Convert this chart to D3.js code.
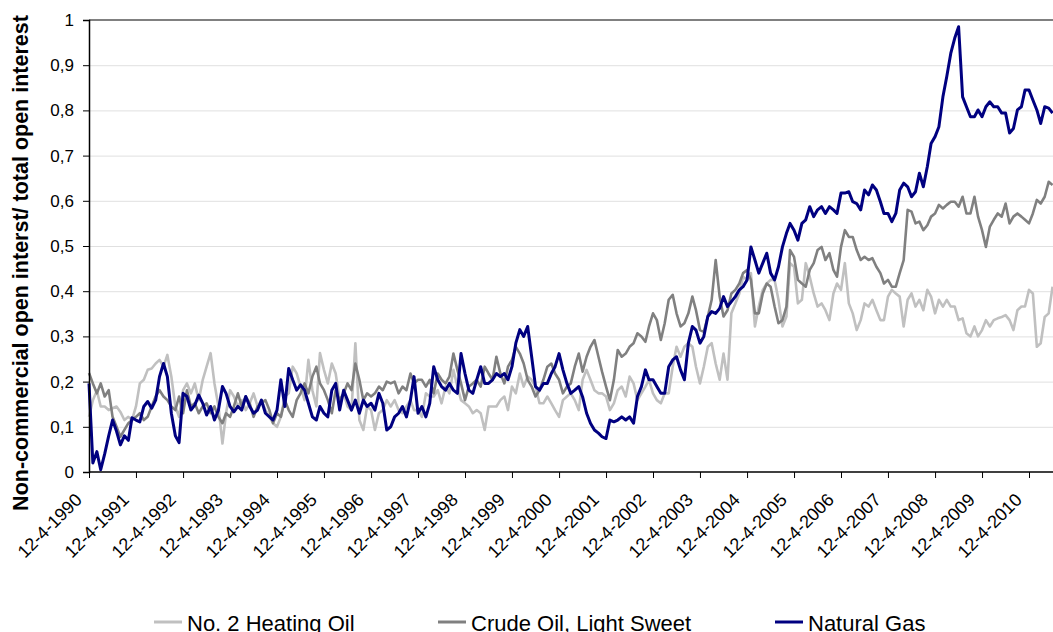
<!DOCTYPE html>
<html>
<head>
<meta charset="utf-8">
<script src="https://cdn.jsdelivr.net/npm/d3@7"></script>
<style>
  body { margin: 0; background: #fff; }
  .grid line { stroke: #e0e0e0; }
  .grid path { display: none; }
  .series { fill: none; stroke-linejoin: round; }
</style>
</head>
<body>
<svg id="chart" width="1053" height="632" font-family="'Liberation Sans', Arial, sans-serif"></svg>
<script>
// Monthly readings, starting 12-4-1990
const startDate = new Date(1990, 3, 12);
const tickYears = d3.range(1990, 2011);
const yTicks = d3.range(0, 11).map(d => d / 10);

const heatingOil = [
  0.122, 0.159, 0.18, 0.145, 0.145, 0.137, 0.141, 0.145, 0.133, 0.115, 0.122, 0.115,
  0.145, 0.196, 0.204, 0.226, 0.229, 0.24, 0.248, 0.233, 0.259, 0.211, 0.145, 0.122,
  0.181, 0.196, 0.174, 0.196, 0.159, 0.204, 0.233, 0.263, 0.196, 0.145, 0.063, 0.13,
  0.181, 0.167, 0.145, 0.159, 0.137, 0.152, 0.174, 0.145, 0.159, 0.137, 0.122, 0.108,
  0.1, 0.122, 0.167, 0.174, 0.233, 0.218, 0.189, 0.159, 0.248, 0.181, 0.145, 0.263,
  0.226, 0.196, 0.24, 0.218, 0.159, 0.174, 0.145, 0.137, 0.285, 0.115, 0.093, 0.145,
  0.137, 0.093, 0.13, 0.137, 0.159, 0.145, 0.159, 0.137, 0.13, 0.145, 0.159, 0.137,
  0.137, 0.122, 0.174, 0.167, 0.167, 0.181, 0.152, 0.189, 0.174, 0.226, 0.189, 0.159,
  0.152, 0.145, 0.13, 0.137, 0.13, 0.093, 0.145, 0.145, 0.145, 0.159, 0.167, 0.137,
  0.189, 0.174, 0.218, 0.189, 0.211, 0.204, 0.189, 0.152, 0.152, 0.167, 0.152, 0.137,
  0.122, 0.159, 0.167, 0.174, 0.159, 0.137, 0.204, 0.226, 0.204, 0.181, 0.174, 0.174,
  0.167, 0.137, 0.152, 0.181, 0.189, 0.167, 0.211, 0.196, 0.159, 0.174, 0.189, 0.204,
  0.174, 0.159, 0.152, 0.174, 0.174, 0.233, 0.277, 0.255, 0.277, 0.285, 0.277, 0.233,
  0.196, 0.233, 0.277, 0.285, 0.24, 0.204, 0.262, 0.204, 0.351, 0.373, 0.395, 0.432,
  0.425, 0.44, 0.322, 0.366, 0.403, 0.417, 0.425, 0.425, 0.381, 0.322, 0.344, 0.462,
  0.454, 0.373, 0.381, 0.462, 0.432, 0.395, 0.366, 0.373, 0.358, 0.336, 0.395, 0.417,
  0.403, 0.462, 0.373, 0.351, 0.314, 0.336, 0.373, 0.366, 0.381, 0.358, 0.336, 0.336,
  0.388, 0.403, 0.395, 0.388, 0.322, 0.381, 0.395, 0.366, 0.381, 0.358, 0.403, 0.388,
  0.351, 0.381, 0.366, 0.381, 0.366, 0.366, 0.336, 0.34, 0.307, 0.3, 0.322, 0.3,
  0.314, 0.336, 0.322, 0.336, 0.34, 0.343, 0.347, 0.336, 0.314, 0.358, 0.366, 0.366,
  0.403, 0.395, 0.277, 0.285, 0.343, 0.351, 0.41
];

const crudeOil = [
  0.219, 0.196, 0.174, 0.196, 0.167, 0.181, 0.122, 0.1, 0.078, 0.093, 0.108, 0.115,
  0.122, 0.13, 0.115, 0.122, 0.145, 0.167, 0.181, 0.167, 0.159, 0.145, 0.137, 0.167,
  0.13, 0.181, 0.145, 0.152, 0.13, 0.145, 0.152, 0.13, 0.145, 0.122, 0.108, 0.13,
  0.122, 0.145, 0.174, 0.145, 0.167, 0.152, 0.122, 0.145, 0.152, 0.159, 0.137, 0.108,
  0.13, 0.122, 0.159, 0.137, 0.122, 0.159, 0.174, 0.196, 0.174, 0.211, 0.233, 0.196,
  0.181, 0.159, 0.13, 0.181, 0.159, 0.174, 0.196, 0.181, 0.24, 0.204, 0.159, 0.174,
  0.167, 0.174, 0.189, 0.181, 0.2, 0.196, 0.2, 0.174, 0.189, 0.181, 0.218, 0.196,
  0.204, 0.204, 0.189, 0.204, 0.174, 0.218, 0.204, 0.196, 0.211, 0.262, 0.226, 0.196,
  0.159, 0.189, 0.196, 0.204, 0.189, 0.233, 0.218, 0.204, 0.255, 0.218, 0.196, 0.233,
  0.248, 0.277, 0.262, 0.24, 0.204, 0.189, 0.167, 0.181, 0.204, 0.233, 0.24, 0.218,
  0.204, 0.174, 0.189, 0.196, 0.233, 0.262, 0.222, 0.255, 0.277, 0.292, 0.255, 0.222,
  0.189, 0.159, 0.204, 0.27, 0.255, 0.262, 0.277, 0.285, 0.307, 0.3, 0.288, 0.322,
  0.351, 0.336, 0.292, 0.329, 0.381, 0.392, 0.351, 0.322, 0.329, 0.351, 0.388, 0.358,
  0.314, 0.31, 0.344, 0.381, 0.469, 0.388, 0.344, 0.358, 0.395, 0.403, 0.417, 0.44,
  0.447, 0.425, 0.351, 0.351, 0.395, 0.417, 0.41, 0.366, 0.329, 0.336, 0.366, 0.491,
  0.476, 0.425, 0.417, 0.41, 0.447, 0.462, 0.491, 0.498, 0.469, 0.484, 0.447, 0.432,
  0.498, 0.535, 0.52, 0.52, 0.491, 0.469, 0.476, 0.469, 0.473, 0.454, 0.44, 0.417,
  0.425, 0.41, 0.41, 0.44, 0.469, 0.58, 0.576, 0.55, 0.554, 0.535, 0.546, 0.565,
  0.572, 0.591, 0.583, 0.591, 0.598, 0.598, 0.587, 0.609, 0.572, 0.572, 0.609, 0.565,
  0.535, 0.498, 0.543, 0.558, 0.572, 0.565, 0.594, 0.55, 0.565, 0.572, 0.565, 0.558,
  0.55, 0.572, 0.602, 0.594, 0.609, 0.642, 0.635
];

const naturalGas = [
  0.196, 0.02, 0.045, 0.005, 0.04, 0.08, 0.115, 0.09, 0.06, 0.08, 0.07, 0.12,
  0.115, 0.111, 0.145, 0.156, 0.141, 0.159, 0.211, 0.24, 0.211, 0.13, 0.08, 0.065,
  0.174, 0.167, 0.137, 0.148, 0.17, 0.152, 0.126, 0.145, 0.115, 0.137, 0.189, 0.174,
  0.145, 0.133, 0.145, 0.137, 0.167, 0.145, 0.13, 0.137, 0.159, 0.13, 0.122, 0.115,
  0.137, 0.204, 0.145, 0.229, 0.204, 0.181, 0.193, 0.181, 0.152, 0.122, 0.115, 0.145,
  0.13, 0.122, 0.181, 0.196, 0.137, 0.181, 0.159, 0.137, 0.159, 0.13, 0.159, 0.145,
  0.152, 0.137, 0.174, 0.152, 0.093, 0.1, 0.122, 0.13, 0.145, 0.122, 0.159, 0.211,
  0.13, 0.145, 0.122, 0.152, 0.233, 0.204, 0.189, 0.181, 0.196, 0.181, 0.174, 0.262,
  0.218, 0.181, 0.174, 0.204, 0.233, 0.196, 0.196, 0.204, 0.218, 0.211, 0.218, 0.204,
  0.233, 0.285, 0.315, 0.3, 0.322, 0.255, 0.189, 0.181, 0.196, 0.196, 0.218, 0.233,
  0.262, 0.226, 0.196, 0.174, 0.181, 0.189, 0.166, 0.13, 0.108, 0.093, 0.086, 0.078,
  0.074, 0.115, 0.111, 0.115, 0.122, 0.115, 0.122, 0.108, 0.167, 0.189, 0.226, 0.204,
  0.204, 0.189, 0.174, 0.174, 0.233, 0.248, 0.255, 0.226, 0.204, 0.285, 0.322, 0.314,
  0.285, 0.3, 0.344, 0.355, 0.351, 0.362, 0.388, 0.366, 0.377, 0.388, 0.403, 0.41,
  0.425, 0.498, 0.469, 0.44, 0.462, 0.484, 0.44, 0.425, 0.454, 0.498, 0.528, 0.55,
  0.535, 0.513, 0.55, 0.558, 0.587, 0.565, 0.58, 0.587, 0.572, 0.587, 0.58, 0.572,
  0.617, 0.617, 0.62, 0.598, 0.594, 0.58, 0.624, 0.613, 0.635, 0.624, 0.598, 0.572,
  0.572, 0.554, 0.572, 0.624, 0.639, 0.631, 0.609, 0.62, 0.661, 0.631, 0.676, 0.727,
  0.742, 0.764, 0.83, 0.875, 0.926, 0.96, 0.985, 0.83, 0.808, 0.786, 0.786, 0.801,
  0.786, 0.808, 0.819, 0.808, 0.808, 0.794, 0.794, 0.75, 0.76, 0.801, 0.808, 0.845,
  0.845, 0.823, 0.801, 0.771, 0.808, 0.805, 0.794
];

const seriesNames = ['No. 2 Heating Oil', 'Crude Oil, Light Sweet', 'Natural Gas'];
const seriesColors = ['#c0c0c0', '#808080', '#000080'];
const seriesValues = [heatingOil, crudeOil, naturalGas];

const svg = d3.select('#chart');

const x = d3.scaleTime()
    .domain([startDate, new Date(2010, 3, 12)])
    .range([89, 1029]);

const y = d3.scaleLinear()
    .domain([0, 1])
    .range([472, 20]);

// Grid
svg.append('g')
    .attr('class', 'grid')
    .attr('transform', 'translate(89,0)')
    .call(d3.axisLeft(y).tickValues(yTicks.slice(1, 10)).tickSize(-1053).tickFormat(''));

// Top border
svg.append('line')
    .attr('x1', 89).attr('x2', 1053)
    .attr('y1', y(1)).attr('y2', y(1))
    .attr('stroke', '#808080')
    .attr('stroke-width', 2);

// Lines
const line = d3.line()
    .x((d, i) => x(d3.timeMonth.offset(startDate, i)))
    .y(d => y(d));

svg.selectAll('.series')
    .data(seriesValues)
    .enter()
    .append('path')
    .attr('class', 'series')
    .attr('d', line)
    .attr('stroke', (d, i) => seriesColors[i])
    .attr('stroke-width', (d, i) => i === 2 ? 3 : 2.6);

// Y axis
const yAxis = svg.append('g')
    .attr('transform', 'translate(89,0)')
    .call(d3.axisLeft(y)
        .tickValues(yTicks)
        .tickSize(6)
        .tickPadding(9)
        .tickFormat(d => d3.format('.1~f')(d).replace('.', ',')))
    .attr('font-family', "'Liberation Sans', Arial, sans-serif")
    .attr('font-size', 17);
yAxis.select('.domain').attr('stroke', '#000').attr('stroke-width', 1.5);
yAxis.selectAll('.tick line').attr('stroke', '#000');
yAxis.selectAll('.tick text').attr('fill', '#000');

// X axis (labels drawn separately, rotated)
const xAxis = svg.append('g')
    .attr('transform', 'translate(0,472)')
    .call(d3.axisBottom(x)
        .tickValues(tickYears.map(yr => new Date(yr, 3, 12)))
        .tickSize(6)
        .tickSizeOuter(0)
        .tickFormat(''));
xAxis.select('.domain')
    .attr('d', 'M89,0H1053')
    .attr('stroke', '#000')
    .attr('stroke-width', 1.5);
xAxis.selectAll('.tick line').attr('stroke', '#000');

const fmt = d3.timeFormat('%-d-%-m-%Y');
svg.append('g')
    .selectAll('text')
    .data(tickYears.map(yr => new Date(yr, 3, 12)))
    .enter()
    .append('text')
    .attr('text-anchor', 'end')
    .attr('font-size', 18)
    .attr('fill', '#000')
    .attr('transform', d => `translate(${x(d) - 6},501) rotate(-45)`)
    .text(fmt);

// Axis title
svg.append('text')
    .attr('text-anchor', 'middle')
    .attr('transform', 'translate(28,263) rotate(-90)')
    .attr('font-size', 21.5)
    .attr('font-weight', 'bold')
    .text('Non-commercial open interst/ total open interest');

// Legend
const legendX = [154, 438, 775];
const legend = svg.append('g');
seriesNames.forEach((name, i) => {
    const item = legend.append('g')
        .attr('transform', `translate(${legendX[i]},622)`);
    item.append('line')
        .attr('x1', 0).attr('x2', 28)
        .attr('stroke', seriesColors[i])
        .attr('stroke-width', 3);
    item.append('text')
        .attr('x', 33).attr('y', 9)
        .attr('font-size', 22)
        .text(name);
});
</script>
</body>
</html>
